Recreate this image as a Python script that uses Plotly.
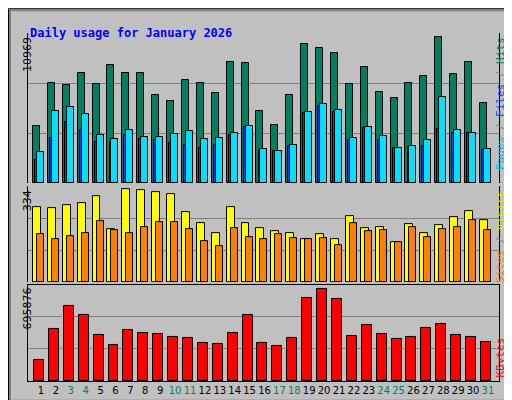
import plotly.graph_objects as go

days = list(range(1, 32))
weekend = [3, 4, 10, 11, 17, 18, 24, 25, 31]
hits = [4213,7337,7191,8063,7264,8644,8063,8063,6465,6029,7555,7337,6610,8862,8789,5303,
        4286,6465,10170,9879,9516,7264,8499,6683,6247,7337,7845,10678,7990,8862,5884]
files = [2252,5303,5593,5085,3559,3269,3923,3414,3414,3632,3850,3269,3341,3705,4213,2470,
         2324,2833,5230,5811,5375,3341,4140,3487,2615,2760,3196,6320,3923,3705,2542]
pages = [1671,3341,4504,3923,3051,2978,3559,3269,3196,2978,2833,2615,2833,3559,4140,2397,
         2324,2760,5157,5666,5230,3196,4068,3196,2615,2688,2760,3995,3705,3705,2397]
sites = [261,257,268,275,299,184,324,320,313,306,244,205,170,261,205,188,
         177,170,150,167,150,230,188,191,139,202,170,198,226,247,216]
visits = [167,150,160,170,212,181,170,191,209,209,184,143,125,188,157,150,
          167,153,150,153,129,205,177,181,139,191,157,184,191,216,181]
kbytes = [150650,380200,545200,480660,337200,258260,373000,351500,344350,315650,308500,272600,
          265440,351500,480660,272600,251100,308500,602600,667200,595400,322800,408900,344350,
          301300,315650,387400,416100,337200,315650,279800]
max_hits, max_sites, max_kb = 10969, 334, 695876

BG = "#c0c0c0"
fig = go.Figure()
line = dict(color="black", width=1)

def bar(y, color, off, w, ya):
    fig.add_trace(go.Bar(x=days, y=y, offset=off, width=w, marker=dict(color=color, line=line),
                         yaxis=ya, showlegend=False, hoverinfo="skip"))

bar(hits, "#008060", -0.54, 0.47, "y")
bar(pages, "#0040ff", -0.4, 0.47, "y")
bar(files, "#00e0ff", -0.27, 0.47, "y")
bar(sites, "#ffff00", -0.54, 0.53, "y2")
bar(visits, "#ff8000", -0.27, 0.47, "y2")
bar(kbytes, "#ff0000", -0.47, 0.67, "y3")

ticktext = [f"<span style='color:{'#008060' if d in weekend else 'black'}'>{d}</span>" for d in days]

def yax(dom, mx):
    return dict(domain=dom, range=[0, mx], tickvals=[mx/3, 2*mx/3], showticklabels=False,
                showgrid=True, gridcolor="#808080", gridwidth=1, zeroline=False,
                showline=True, linecolor="black", mirror=True, ticks="", fixedrange=True)

fig.update_layout(
    width=512, height=400, margin=dict(l=20, r=21, t=25, b=23),
    paper_bgcolor=BG, plot_bgcolor=BG, barmode="overlay", bargap=0,
    font=dict(family="DejaVu Sans", size=11, color="black"),
    xaxis=dict(range=[0.127, 31.74], tickvals=days, ticktext=ticktext, showgrid=False,
               showline=True, linecolor="black", mirror=True, ticks="", anchor="y3",
               tickangle=0, tickfont=dict(size=10, family="DejaVu Sans"), fixedrange=True),
    yaxis=dict(anchor="x", **yax([0.568, 1.0], max_hits)),
    yaxis2=dict(anchor="x", **yax([0.284, 0.560], max_sites)),
    yaxis3=dict(anchor="x", **yax([0.0, 0.276], max_kb)),
)

def px(x): return (x - 20) / 471
def py(y): return (377 - y) / 352

anns = [
    dict(x=px(20), y=py(16), text="<b>Daily usage for January 2026</b>", xanchor="left",
         font=dict(family="DejaVu Sans Mono", size=12, color="#0000ff")),
    dict(x=px(11), y=py(27), text="10969", textangle=-90, yanchor="top"),
    dict(x=px(11), y=py(182), text="334", textangle=-90, yanchor="top"),
    dict(x=px(11), y=py(281), text="695876", textangle=-90, yanchor="top"),
    dict(x=px(501), y=py(27), yanchor="top", textangle=-90,
         text="<span style='color:#00c0e0'>Pages</span><span style='color:#808080'> / </span>"
              "<span style='color:#0040ff'>Files</span><span style='color:#808080'> / </span>"
              "<span style='color:#008060'>Hits</span>",
         font=dict(family="DejaVu Sans Mono", size=11)),
    dict(x=px(501), y=py(182), yanchor="top", textangle=-90,
         text="<span style='color:#ff8000'>Sites</span><span style='color:#808080'> / </span>"
              "<span style='color:#e0e000'>Visits</span>",
         font=dict(family="DejaVu Sans Mono", size=11)),
    dict(x=px(501), y=py(376), yanchor="bottom", textangle=-90,
         text="<span style='color:#ff0000'>KBytes</span>",
         font=dict(family="DejaVu Sans Mono", size=11)),
]
for a in anns:
    a.setdefault("font", dict(family="DejaVu Sans", size=11, color="black"))
    a.update(xref="paper", yref="paper", showarrow=False)
    fig.add_annotation(**a)

fig.add_shape(type="rect", xref="paper", yref="paper", x0=px(0.5), x1=px(511.5),
              y0=py(399.5), y1=py(0.5), line=dict(color="black", width=1))
fig.add_shape(type="rect", xref="paper", yref="paper", x0=px(2), x1=px(509),
              y0=py(397), y1=py(2), line=dict(color="#808080", width=2))

fig.write_html("out.html")
